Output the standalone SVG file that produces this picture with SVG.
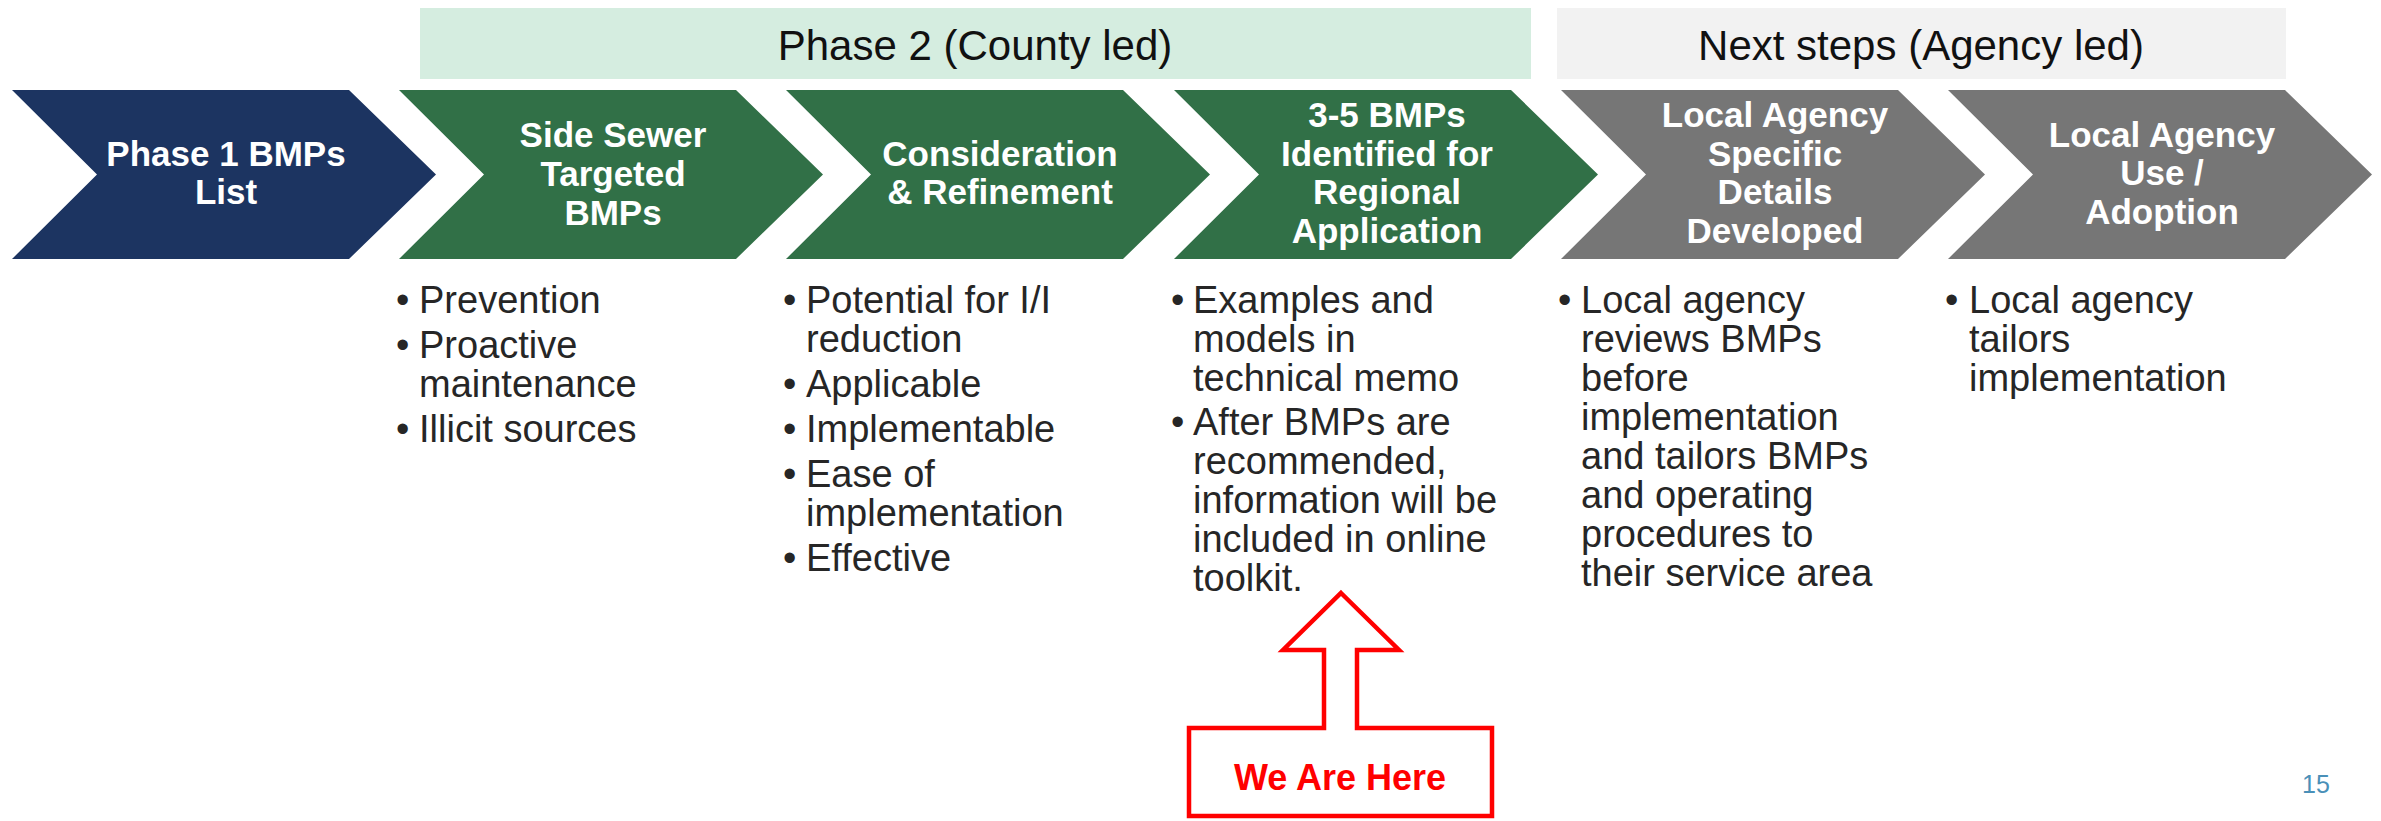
<svg xmlns="http://www.w3.org/2000/svg" width="2381" height="821" viewBox="0 0 2381 821">
<style>
.band-g{fill:#d5ede0}
.band-x{fill:#f2f2f2}
.band-t{font-family:"Liberation Sans",Arial,sans-serif;font-size:42px;fill:#111;text-anchor:middle}
.navy{fill:#1c3461}
.green{fill:#317047}
.gray{fill:#767676}
.lbl{font-family:"Liberation Sans",Arial,sans-serif;font-size:35px;font-weight:bold;fill:#fff;text-anchor:middle}
.bul{font-family:"Liberation Sans",Arial,sans-serif;font-size:38px;fill:#262626}
.call{fill:#fff;stroke:#ff0000;stroke-width:4.5;stroke-linejoin:miter}
.callt{font-family:"Liberation Sans",Arial,sans-serif;font-size:36px;font-weight:bold;fill:#ff0000;text-anchor:middle}
.pg{font-family:"Liberation Sans",Arial,sans-serif;font-size:25px;fill:#4a90b8;text-anchor:middle}
</style>
<rect width="2381" height="821" fill="#fff"/>
<g id="band-phase2">
<rect class="band-g" x="420" y="8" width="1111" height="71"/>
<text class="band-t" x="975" y="60">Phase 2 (County led)</text>
</g>
<g id="band-next">
<rect class="band-x" x="1557" y="8" width="729" height="71"/>
<text class="band-t" x="1921" y="60">Next steps (Agency led)</text>
</g>
<g id="step1">
<polygon class="navy" points="12,90 349,90 436,174.5 349,259 12,259 97,174.5"/>
<text class="lbl"><tspan x="226" y="166">Phase 1 BMPs</tspan><tspan x="226" y="204">List</tspan></text>
</g>
<g id="step2">
<polygon class="green" points="399,90 736,90 823,174.5 736,259 399,259 484,174.5"/>
<text class="lbl"><tspan x="613" y="147">Side Sewer</tspan><tspan x="613" y="186">Targeted</tspan><tspan x="613" y="225">BMPs</tspan></text>
<text class="bul"><tspan x="396" y="313">•</tspan><tspan x="419" y="313">Prevention</tspan><tspan x="396" y="358">•</tspan><tspan x="419" y="358">Proactive</tspan><tspan x="419" y="397">maintenance</tspan><tspan x="396" y="442">•</tspan><tspan x="419" y="442">Illicit sources</tspan></text>
</g>
<g id="step3">
<polygon class="green" points="786,90 1123,90 1210,174.5 1123,259 786,259 871,174.5"/>
<text class="lbl"><tspan x="1000" y="166">Consideration</tspan><tspan x="1000" y="204">&amp; Refinement</tspan></text>
<text class="bul"><tspan x="783" y="313">•</tspan><tspan x="806" y="313">Potential for I/I</tspan><tspan x="806" y="352">reduction</tspan><tspan x="783" y="397">•</tspan><tspan x="806" y="397">Applicable</tspan><tspan x="783" y="442">•</tspan><tspan x="806" y="442">Implementable</tspan><tspan x="783" y="487">•</tspan><tspan x="806" y="487">Ease of</tspan><tspan x="806" y="526">implementation</tspan><tspan x="783" y="571">•</tspan><tspan x="806" y="571">Effective</tspan></text>
</g>
<g id="step4">
<polygon class="green" points="1174,90 1511,90 1598,174.5 1511,259 1174,259 1259,174.5"/>
<text class="lbl"><tspan x="1387" y="127">3-5 BMPs</tspan><tspan x="1387" y="166">Identified for</tspan><tspan x="1387" y="204">Regional</tspan><tspan x="1387" y="243">Application</tspan></text>
<text class="bul"><tspan x="1171" y="313">•</tspan><tspan x="1193" y="313">Examples and</tspan><tspan x="1193" y="352">models in</tspan><tspan x="1193" y="391">technical memo</tspan><tspan x="1171" y="435">•</tspan><tspan x="1193" y="435">After BMPs are</tspan><tspan x="1193" y="474">recommended,</tspan><tspan x="1193" y="513">information will be</tspan><tspan x="1193" y="552">included in online</tspan><tspan x="1193" y="591">toolkit.</tspan></text>
</g>
<g id="step5">
<polygon class="gray" points="1561,90 1898,90 1985,174.5 1898,259 1561,259 1646,174.5"/>
<text class="lbl"><tspan x="1775" y="127">Local Agency</tspan><tspan x="1775" y="166">Specific</tspan><tspan x="1775" y="204">Details</tspan><tspan x="1775" y="243">Developed</tspan></text>
<text class="bul"><tspan x="1558" y="313">•</tspan><tspan x="1581" y="313">Local agency</tspan><tspan x="1581" y="352">reviews BMPs</tspan><tspan x="1581" y="391">before</tspan><tspan x="1581" y="430">implementation</tspan><tspan x="1581" y="469">and tailors BMPs</tspan><tspan x="1581" y="508">and operating</tspan><tspan x="1581" y="547">procedures to</tspan><tspan x="1581" y="586">their service area</tspan></text>
</g>
<g id="step6">
<polygon class="gray" points="1948,90 2285,90 2372,174.5 2285,259 1948,259 2033,174.5"/>
<text class="lbl"><tspan x="2162" y="147">Local Agency</tspan><tspan x="2162" y="185">Use /</tspan><tspan x="2162" y="224">Adoption</tspan></text>
<text class="bul"><tspan x="1945" y="313">•</tspan><tspan x="1969" y="313">Local agency</tspan><tspan x="1969" y="352">tailors</tspan><tspan x="1969" y="391">implementation</tspan></text>
</g>
<g id="we-are-here">
<polygon class="call" points="1341,593 1399,650 1357,650 1357,728 1492,728 1492,816 1189,816 1189,728 1324,728 1324,650 1283,650"/>
<text class="callt" x="1340" y="790">We Are Here</text>
</g>
<g id="connectors"></g>
<g id="page-number">
<text class="pg" x="2316" y="793">15</text>
</g>
</svg>
